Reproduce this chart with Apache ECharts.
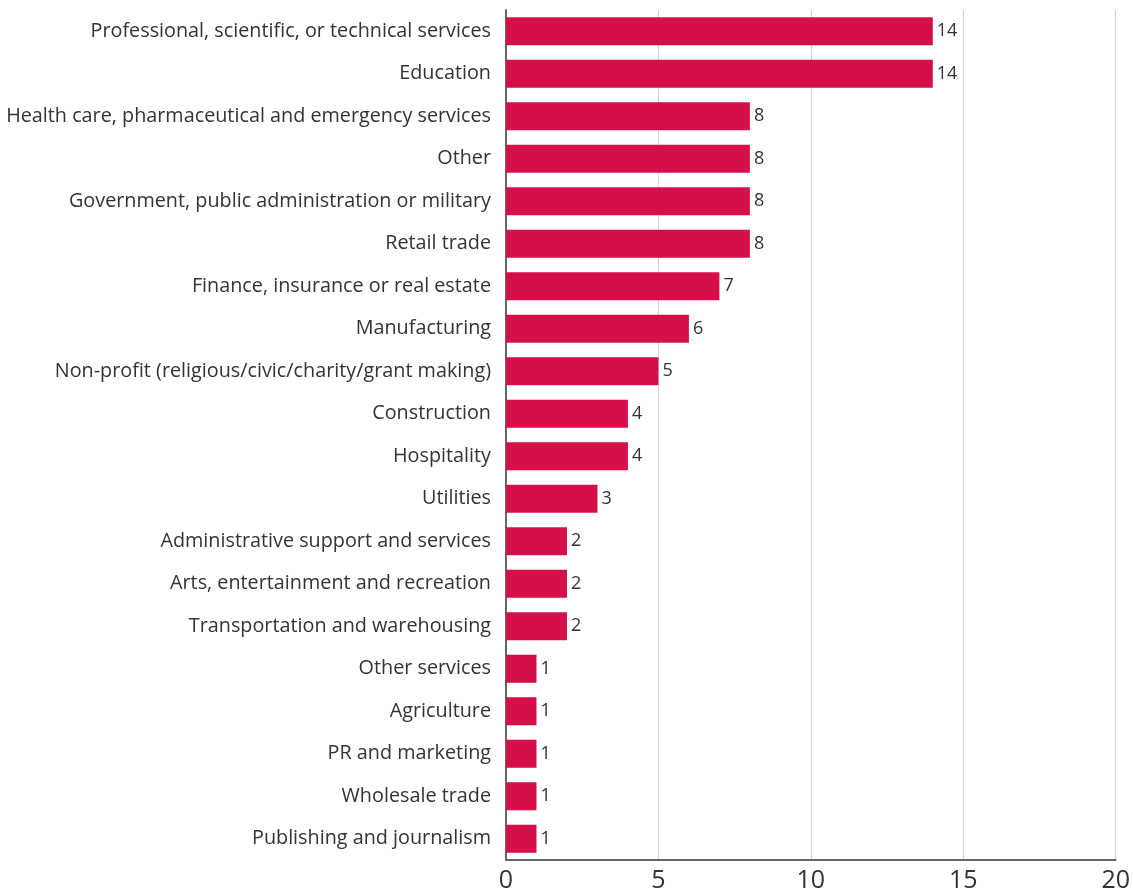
<!DOCTYPE html>
<html>
<head>
<meta charset="utf-8">
<script src="https://cdn.jsdelivr.net/npm/echarts@6/dist/echarts.min.js"></script>
<style>
  html, body { margin: 0; padding: 0; background: #fff; }
  #chart { width: 1133px; height: 893px; }
</style>
</head>
<body>
<div id="chart"></div>
<script>
var sectors = [
    'Professional, scientific, or technical services',
    'Education',
    'Health care, pharmaceutical and emergency services',
    'Other',
    'Government, public administration or military',
    'Retail trade',
    'Finance, insurance or real estate',
    'Manufacturing',
    'Non-profit (religious/civic/charity/grant making)',
    'Construction',
    'Hospitality',
    'Utilities',
    'Administrative support and services',
    'Arts, entertainment and recreation',
    'Transportation and warehousing',
    'Other services',
    'Agriculture',
    'PR and marketing',
    'Wholesale trade',
    'Publishing and journalism'
];
var shares = [14, 14, 8, 8, 8, 8, 7, 6, 5, 4, 4, 3, 2, 2, 2, 1, 1, 1, 1, 1];
var xTicks = [0, 5, 10, 15, 20];

var chart = echarts.init(document.getElementById('chart'));
var font = '"Open Sans", sans-serif';
var option = {
    animation: false,
    grid: { left: 506, right: 16, top: 10, bottom: 32, containLabel: false },
    xAxis: {
        type: 'value',
        min: xTicks[0],
        max: xTicks[xTicks.length - 1],
        interval: 5,
        axisLine: { show: true, lineStyle: { color: '#666', width: 2 } },
        axisTick: { show: false },
        axisLabel: { color: '#333', fontSize: 25, fontFamily: font, margin: 8 },
        splitLine: { show: true, lineStyle: { color: '#d0d0d0', width: 1 } }
    },
    yAxis: {
        type: 'category',
        inverse: true,
        data: sectors,
        axisLine: { show: true, lineStyle: { color: '#666', width: 2 } },
        axisTick: { show: false },
        axisLabel: { color: '#333', fontSize: 19.8, fontFamily: font, margin: 15 }
    },
    series: [
        {
            type: 'bar',
            data: shares,
            barCategoryGap: '34%',
            itemStyle: { color: '#D51049' },
            label: {
                show: true,
                position: 'right',
                distance: 4,
                color: '#333',
                fontSize: 18,
                fontFamily: font
            }
        }
    ]
};
chart.setOption(option);
</script>
</body>
</html>
